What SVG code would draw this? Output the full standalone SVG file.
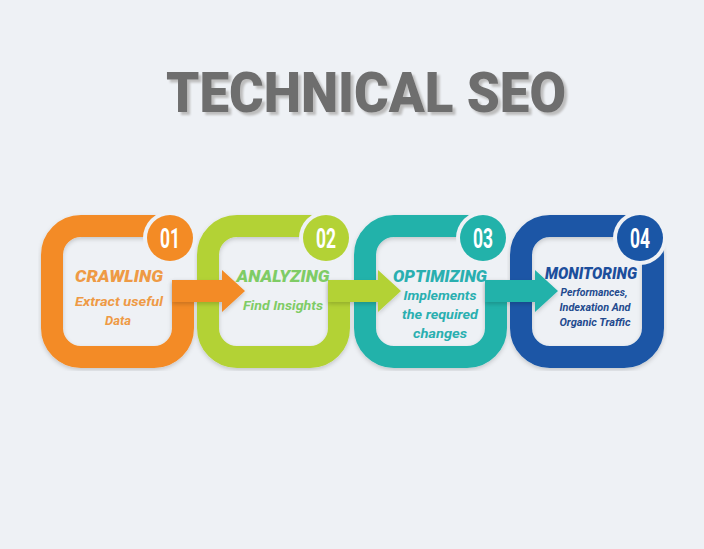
<svg xmlns="http://www.w3.org/2000/svg" width="704" height="549" viewBox="0 0 704 549">
<defs>
<style>
.ring{fill:none;stroke-width:22;stroke-linejoin:round}
.badge-ring{fill:#EEF1F5}
.num{font-family:Roboto,"Liberation Sans",sans-serif;font-weight:700;font-size:27px;fill:#ffffff;text-anchor:middle}
.lbl{font-family:Roboto,"Liberation Sans",sans-serif;font-weight:900;font-style:italic;font-size:17px;text-anchor:middle}
.sub{font-family:Roboto,"Liberation Sans",sans-serif;font-weight:700;font-style:italic;font-size:13px;text-anchor:middle}
.sub2{font-family:Roboto,"Liberation Sans",sans-serif;font-weight:700;font-style:italic;font-size:11.5px;text-anchor:middle}
.title{font-family:Roboto,"Liberation Sans",sans-serif;font-weight:900;font-size:56px}
</style>
<filter id="sh" x="-10%" y="-10%" width="120%" height="120%">
<feDropShadow dx="0" dy="2" stdDeviation="2" flood-color="#000" flood-opacity="0.18"/>
</filter>
<filter id="tsh" x="-5%" y="-20%" width="110%" height="150%">
<feDropShadow dx="3" dy="3" stdDeviation="1" flood-color="#BDBDBD" flood-opacity="1"/>
</filter>
</defs>
<rect width="704" height="549" fill="#EEF1F5"/>

<g id="title">
<text class="title" x="166" y="112" fill="#6E6E6E" textLength="400" lengthAdjust="spacingAndGlyphs" filter="url(#tsh)">TECHNICAL SEO</text>
</g>

<g id="node-crawling" filter="url(#sh)">
<path class="ring" stroke="#F38B25" d="M183 280 L183 328 A29 29 0 0 1 154 357 L81 357 A29 29 0 0 1 52 328 L52 255 A29 29 0 0 1 81 226 L171 226"/>
</g>
<g id="node-analyzing" filter="url(#sh)">
<path class="ring" stroke="#B3D235" d="M339 280 L339 328 A29 29 0 0 1 310 357 L237 357 A29 29 0 0 1 208 328 L208 255 A29 29 0 0 1 237 226 L327 226"/>
</g>
<g id="node-optimizing" filter="url(#sh)">
<path class="ring" stroke="#22B2AA" d="M496 280 L496 328 A29 29 0 0 1 467 357 L394 357 A29 29 0 0 1 365 328 L365 255 A29 29 0 0 1 394 226 L484 226"/>
</g>
<g id="node-monitoring" filter="url(#sh)">
<rect class="ring" stroke="#1A56A6" x="521" y="226" width="132" height="131" rx="29" ry="29"/>
</g>

<g id="connectors" filter="url(#sh)">
<path fill="#F38B25" d="M172 280 L222 280 L222 270 L245 291 L222 312 L222 302 L172 302 Z"/>
<path fill="#B3D235" d="M328 280 L378 280 L378 270 L401 291 L378 312 L378 302 L328 302 Z"/>
<path fill="#22B2AA" d="M485 280 L535 280 L535 270 L558 291 L535 312 L535 302 L485 302 Z"/>
</g>

<g id="badges">
<circle class="badge-ring" cx="170" cy="238" r="27"/>
<circle cx="170" cy="238" r="23" fill="#F38B25"/>
<text class="num" x="170" y="248" textLength="20" lengthAdjust="spacingAndGlyphs">01</text>
<circle class="badge-ring" cx="326" cy="238" r="27"/>
<circle cx="326" cy="238" r="23" fill="#B3D235"/>
<text class="num" x="326" y="248" textLength="20" lengthAdjust="spacingAndGlyphs">02</text>
<circle class="badge-ring" cx="483" cy="238" r="27"/>
<circle cx="483" cy="238" r="23" fill="#22B2AA"/>
<text class="num" x="483" y="248" textLength="20" lengthAdjust="spacingAndGlyphs">03</text>
<circle class="badge-ring" cx="640" cy="238" r="27"/>
<circle cx="640" cy="238" r="23" fill="#1A56A6"/>
<text class="num" x="640" y="248" textLength="20" lengthAdjust="spacingAndGlyphs">04</text>
</g>

<g id="labels">
<text class="lbl" x="119" y="282" fill="#EE9A45" textLength="88" lengthAdjust="spacingAndGlyphs">CRAWLING</text>
<text class="sub" x="119" y="306" fill="#EE9A45" textLength="88" lengthAdjust="spacingAndGlyphs">Extract useful</text>
<text class="sub" x="118" y="325" fill="#EE9A45">Data</text>
<text class="lbl" x="283" y="282" fill="#7FCC66" textLength="93" lengthAdjust="spacingAndGlyphs">ANALYZING</text>
<text class="sub" x="283" y="310" fill="#7FCC66" textLength="80" lengthAdjust="spacingAndGlyphs">Find Insights</text>
<text class="lbl" x="440" y="282" fill="#2AAFB0" textLength="94" lengthAdjust="spacingAndGlyphs">OPTIMIZING</text>
<text class="sub" x="440" y="300" fill="#2AAFB0" textLength="73" lengthAdjust="spacingAndGlyphs">Implements</text>
<text class="sub" x="440" y="319" fill="#2AAFB0" textLength="76" lengthAdjust="spacingAndGlyphs">the required</text>
<text class="sub" x="440" y="338" fill="#2AAFB0" textLength="54" lengthAdjust="spacingAndGlyphs">changes</text>
<text class="lbl" x="591" y="279" fill="#1C4E9C" textLength="92" lengthAdjust="spacingAndGlyphs">MONITORING</text>
<text class="sub2" x="594" y="296" fill="#234A8E" textLength="67" lengthAdjust="spacingAndGlyphs">Performances,</text>
<text class="sub2" x="595" y="311" fill="#234A8E" textLength="71" lengthAdjust="spacingAndGlyphs">Indexation And</text>
<text class="sub2" x="595" y="326" fill="#234A8E" textLength="71" lengthAdjust="spacingAndGlyphs">Organic Traffic</text>
</g>
</svg>
